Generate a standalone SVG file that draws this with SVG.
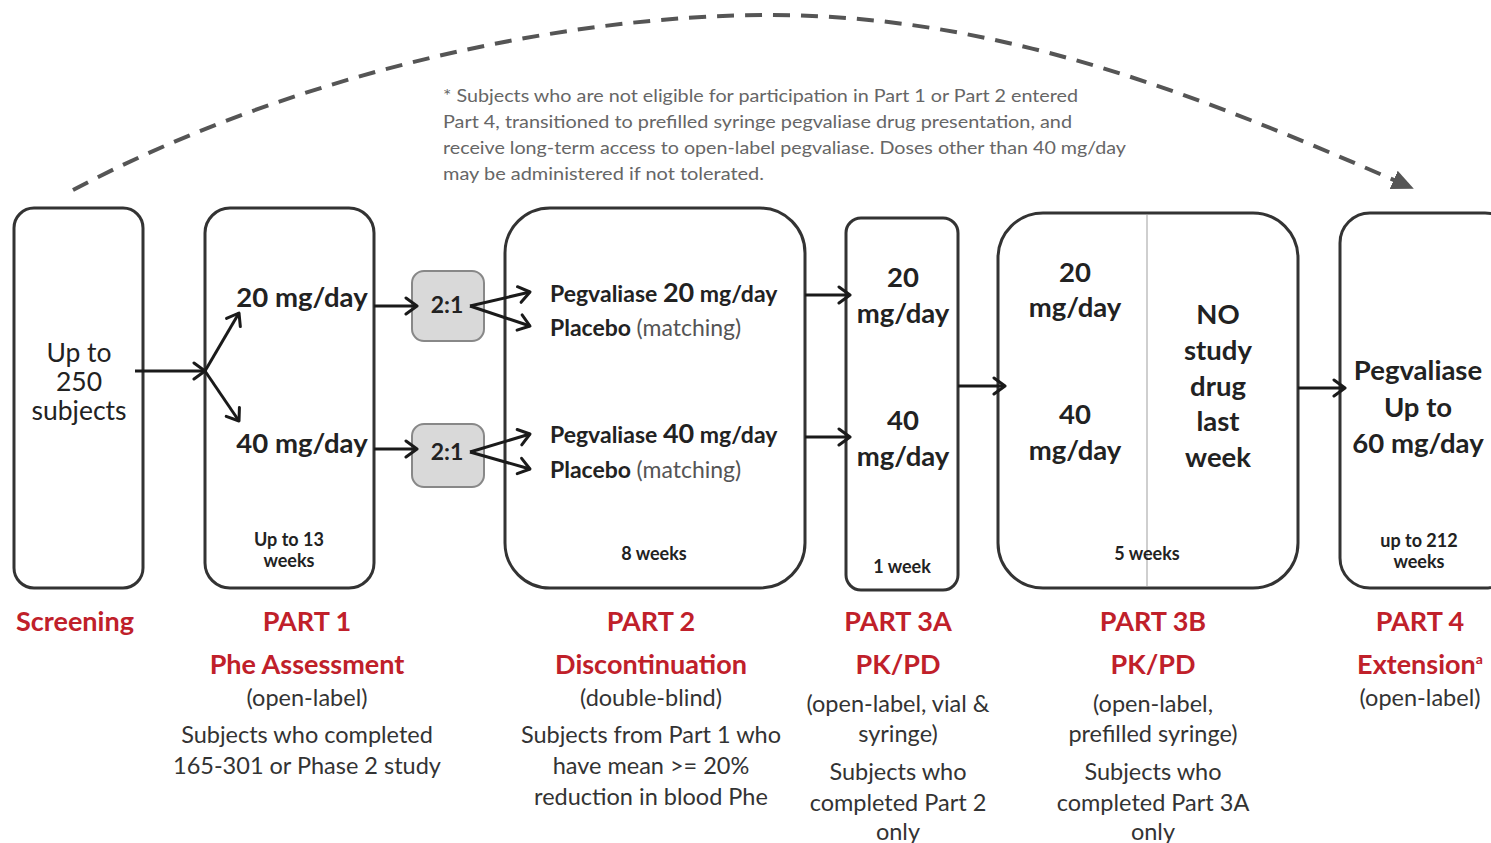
<svg xmlns="http://www.w3.org/2000/svg" width="1491" height="843" viewBox="0 0 1491 843">
<defs>
<marker id="ah" markerWidth="20" markerHeight="20" refX="14" refY="10" orient="auto" markerUnits="userSpaceOnUse">
<path d="M3,2 L14,10 L3,18" fill="none" stroke="#1a1a1a" stroke-width="3" stroke-linecap="round" stroke-linejoin="round"/>
</marker>
<marker id="tri" markerWidth="26" markerHeight="26" refX="20" refY="13" orient="auto" markerUnits="userSpaceOnUse">
<path d="M0,3 L22,13 L0,23 Z" fill="#555"/>
</marker>
<style>
.box{fill:#fff;stroke:#333;stroke-width:3}
.rt{fill:#d9d9d9;stroke:#888;stroke-width:2}
.ln{fill:none;stroke:#1a1a1a;stroke-width:3;marker-end:url(#ah)}
text{font-family:Lato,"Open Sans","Liberation Sans",sans-serif;fill:#222;text-anchor:middle}
.b{font-weight:bold}
.big{font-size:27.5px}
.sm{font-size:18px;font-weight:bold}
.red{fill:#c0202a;font-weight:bold;font-size:27px}
.cap{font-size:23.5px;fill:#333}
.note{font-size:18px;fill:#666;text-anchor:start}
.grey{fill:#555;font-weight:normal}
.pl{font-size:23px;font-weight:bold;text-anchor:start}
</style>
</defs>
<g id="footnote">
<text class="note" x="443" y="102" textLength="635" lengthAdjust="spacingAndGlyphs">* Subjects who are not eligible for participation in  Part 1 or Part 2 entered</text>
<text class="note" x="443" y="128" textLength="629" lengthAdjust="spacingAndGlyphs">Part 4, transitioned to prefilled syringe pegvaliase drug presentation, and</text>
<text class="note" x="443" y="154" textLength="683" lengthAdjust="spacingAndGlyphs">receive long-term access to open-label pegvaliase. Doses other than 40 mg/day</text>
<text class="note" x="443" y="180" textLength="321" lengthAdjust="spacingAndGlyphs">may be administered if not tolerated.</text>
</g>
<g id="screening">
<rect class="box" x="14" y="208" width="129" height="380" rx="20"/>
<text x="79" y="362" font-size="26.5" fill="#383838">Up to</text>
<text x="79" y="391" font-size="26.5" fill="#383838">250</text>
<text x="79" y="420" font-size="26.5" fill="#383838">subjects</text>
<text class="red" x="75" y="631">Screening</text>
</g>
<g id="part1">
<rect class="box" x="205" y="208" width="169" height="380" rx="25"/>
<text class="big b" x="302" y="307">20 mg/day</text>
<text class="big b" x="302" y="453">40 mg/day</text>
<text class="sm" x="289" y="546">Up to 13</text>
<text class="sm" x="289" y="567">weeks</text>
<text class="red" x="307" y="631">PART 1</text>
<text class="red" x="307" y="674">Phe Assessment</text>
<text class="cap" x="307" y="706">(open-label)</text>
<text class="cap" x="307" y="743">Subjects who completed</text>
<text class="cap" x="307" y="774">165-301 or Phase 2 study</text>
</g>
<g id="ratio1">
<rect class="rt" x="412" y="271" width="72" height="70" rx="12"/>
<text x="447" y="313" font-size="23" class="b">2:1</text>
</g>
<g id="ratio2">
<rect class="rt" x="412" y="424" width="72" height="63" rx="12"/>
<text x="447" y="460" font-size="23" class="b">2:1</text>
</g>
<g id="part2">
<rect class="box" x="505" y="208" width="300" height="380" rx="45"/>
<text x="550" y="302" class="pl">Pegvaliase <tspan font-size="27">20</tspan> mg/day</text>
<text x="550" y="336" class="pl">Placebo <tspan class="grey">(matching)</tspan></text>
<text x="550" y="443" class="pl">Pegvaliase <tspan font-size="27">40</tspan> mg/day</text>
<text x="550" y="478" class="pl">Placebo <tspan class="grey">(matching)</tspan></text>
<text class="sm" x="654" y="560">8 weeks</text>
<text class="red" x="651" y="631">PART 2</text>
<text class="red" x="651" y="674">Discontinuation</text>
<text class="cap" x="651" y="706">(double-blind)</text>
<text class="cap" x="651" y="743">Subjects from Part 1 who</text>
<text class="cap" x="651" y="774">have mean &gt;= 20%</text>
<text class="cap" x="651" y="805">reduction in blood Phe</text>
</g>
<g id="part3a">
<rect class="box" x="846" y="218" width="112" height="372" rx="15"/>
<text class="big b" x="903" y="287">20</text>
<text class="big b" x="903" y="323">mg/day</text>
<text class="big b" x="903" y="430">40</text>
<text class="big b" x="903" y="466">mg/day</text>
<text class="sm" x="902" y="573">1 week</text>
<text class="red" x="898" y="631">PART 3A</text>
<text class="red" x="898" y="674">PK/PD</text>
<text class="cap" x="898" y="712">(open-label, vial &amp;</text>
<text class="cap" x="898" y="742">syringe)</text>
<text class="cap" x="898" y="780">Subjects who</text>
<text class="cap" x="898" y="811">completed Part 2</text>
<text class="cap" x="898" y="840">only</text>
</g>
<g id="part3b">
<rect class="box" x="998" y="213" width="300" height="375" rx="45"/>
<line x1="1147" y1="215" x2="1147" y2="586" stroke="#cfcfcf" stroke-width="2"/>
<text class="big b" x="1075" y="282">20</text>
<text class="big b" x="1075" y="317">mg/day</text>
<text class="big b" x="1075" y="424">40</text>
<text class="big b" x="1075" y="460">mg/day</text>
<text class="big b" x="1218" y="324">NO</text>
<text class="big b" x="1218" y="360">study</text>
<text class="big b" x="1218" y="396">drug</text>
<text class="big b" x="1218" y="431">last</text>
<text class="big b" x="1218" y="467">week</text>
<text class="sm" x="1147" y="560">5 weeks</text>
<text class="red" x="1153" y="631">PART 3B</text>
<text class="red" x="1153" y="674">PK/PD</text>
<text class="cap" x="1153" y="712">(open-label,</text>
<text class="cap" x="1153" y="742">prefilled syringe)</text>
<text class="cap" x="1153" y="780">Subjects who</text>
<text class="cap" x="1153" y="811">completed Part 3A</text>
<text class="cap" x="1153" y="840">only</text>
</g>
<g id="part4">
<rect class="box" x="1340" y="213" width="175" height="375" rx="30"/>
<text class="big b" x="1418" y="380">Pegvaliase</text>
<text class="big b" x="1418" y="417">Up to</text>
<text class="big b" x="1418" y="453">60 mg/day</text>
<text class="sm" x="1419" y="547">up to 212</text>
<text class="sm" x="1419" y="568">weeks</text>
<text class="red" x="1420" y="631">PART 4</text>
<text class="red" x="1420" y="674">Extension<tspan font-size="14" dy="-10">a</tspan></text>
<text class="cap" x="1420" y="706">(open-label)</text>
</g>
<g id="connectors">
<path d="M73,190 C290,75 560,15 770,15 C1000,15 1200,95 1412,188" fill="none" stroke="#555" stroke-width="4" stroke-dasharray="17,11" marker-end="url(#tri)"/>
<line class="ln" x1="135" y1="371" x2="205" y2="371"/>
<line class="ln" x1="205" y1="371" x2="239" y2="313"/>
<line class="ln" x1="205" y1="371" x2="239" y2="421"/>
<line class="ln" x1="374" y1="306" x2="417" y2="306"/>
<line class="ln" x1="374" y1="449" x2="417" y2="449"/>
<line class="ln" x1="470" y1="306" x2="530" y2="292"/>
<line class="ln" x1="470" y1="306" x2="530" y2="326"/>
<line class="ln" x1="470" y1="452" x2="530" y2="434"/>
<line class="ln" x1="470" y1="452" x2="530" y2="469"/>
<line class="ln" x1="805" y1="295" x2="850" y2="295"/>
<line class="ln" x1="805" y1="437" x2="850" y2="437"/>
<line class="ln" x1="958" y1="386" x2="1005" y2="386"/>
<line class="ln" x1="1298" y1="388" x2="1345" y2="388"/>
</g>
</svg>
